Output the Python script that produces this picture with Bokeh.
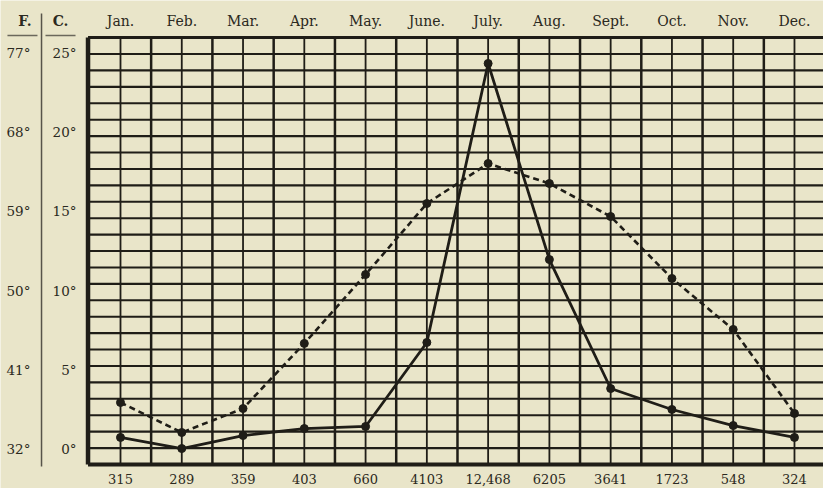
import numpy as np
from bokeh.plotting import figure
from bokeh.models import Range1d, ColumnDataSource
from bokeh.core.properties import value
from bokeh.embed import file_html
from bokeh.resources import INLINE

# ---- data ----
months = ["Jan.", "Feb.", "Mar.", "Apr.", "May.", "June.", "July.", "Aug.", "Sept.", "Oct.", "Nov.", "Dec."]
counts = ["315", "289", "359", "403", "660", "4103", "12,468", "6205", "3641", "1723", "548", "324"]
solid_series = [0.76, 0.06, 0.88, 1.32, 1.45, 6.74, 24.31, 11.96, 3.84, 2.52, 1.51, 0.76]
dashed_series = [2.96, 1.07, 2.58, 6.68, 11.02, 15.49, 18.01, 16.75, 14.67, 10.77, 7.56, 2.27]
c_ticks = [0, 5, 10, 15, 20, 25]
f_ticks = [32, 41, 50, 59, 68, 77]

# ---- styling / layout ----
BG = "#e9e5c9"
INK = "#1f1d17"
TXT = "#2b2921"
FONT = value("DejaVu Serif")

W, H = 823, 488
x0, x1 = -0.9585, 12.4737
y0, y1 = -2.456, 28.275
p = figure(width=W, height=H, x_range=Range1d(x0, x1), y_range=Range1d(y0, y1),
           output_backend="svg", toolbar_location=None,
           x_axis_location=None, y_axis_location=None,
           min_border=0, min_border_left=0, min_border_right=0,
           min_border_top=0, min_border_bottom=0,
           background_fill_color=BG, border_fill_color=BG, outline_line_color=None)
p.grid.visible = False
p.extra_y_ranges = {"F": Range1d(y0 * 9 / 5 + 32, y1 * 9 / 5 + 32)}

xm = np.arange(1, len(months) + 1)

# grid frame
g_left, g_right = 0.47, 12.6
g_bot, g_top = -0.945, 25.94
hy = np.linspace(g_bot, g_top, 27)
inner = hy[1:-1]
p.segment(x0=[g_left] * len(inner), y0=inner, x1=[g_right] * len(inner), y1=inner,
          line_color=INK, line_width=2.1)
# vertical lines: month centres and boundaries
vc = xm.astype(float)
vb = xm + 0.5
p.segment(x0=vc, y0=[g_bot] * len(vc), x1=vc, y1=[g_top] * len(vc), line_color=INK, line_width=1.8)
p.segment(x0=vb, y0=[g_bot] * len(vb), x1=vb, y1=[g_top] * len(vb), line_color=INK, line_width=2.5)
# borders
p.segment(x0=[g_left], y0=[g_top], x1=[g_right], y1=[g_top], line_color=INK, line_width=3)
p.segment(x0=[g_left], y0=[g_bot], x1=[g_right], y1=[g_bot], line_color=INK, line_width=4)
p.segment(x0=[g_left], y0=[g_bot], x1=[g_left], y1=[g_top], line_color=INK, line_width=4.5)

# series
src = ColumnDataSource(dict(x=xm, solid=solid_series, dashed=dashed_series))
p.line("x", "dashed", source=src, line_color=INK, line_width=2.6, line_dash="6 4")
p.scatter("x", "dashed", source=src, size=8, fill_color=INK, line_color=INK)
p.line("x", "solid", source=src, line_color=INK, line_width=2.8)
p.scatter("x", "solid", source=src, size=8, fill_color=INK, line_color=INK)

# month labels (top)
p.text(x=xm, y=[26.96] * 12, text=months, text_font=FONT, text_font_size="14px",
       text_color=TXT, text_align="center", text_baseline="alphabetic")
# counts (bottom)
p.text(x=xm, y=[-1.88] * 12, text=counts, text_font=FONT, text_font_size="13px",
       text_color=TXT, text_align="center", text_baseline="alphabetic")
# headers
p.text(x=[-0.559, 0.021], y=[26.96, 26.96], text=["F.", "C."], text_font=FONT,
       text_font_size="14px", text_font_style="bold", text_color=TXT,
       text_align="center", text_baseline="alphabetic")
# header rules + separator
p.segment(x0=[-0.845, -0.224], y0=[26.07, 26.07], x1=[-0.355, 0.266], y1=[26.07, 26.07],
          line_color="#6b685c", line_width=1.5)
p.segment(x0=[-0.289], y0=[27.46], x1=[-0.289], y1=[-1.07], line_color="#57544a", line_width=1.5)
# degree labels
p.text(x=[0.282] * len(c_ticks), y=[c for c in c_ticks], text=[f"{c}°" for c in c_ticks],
       text_font=FONT, text_font_size="13.5px", text_color=TXT,
       text_align="right", text_baseline="alphabetic")
p.text(x=[-0.861] * len(f_ticks), y=[f for f in f_ticks], text=[f"{f}°" for f in f_ticks],
       text_font=FONT, text_font_size="13.5px", text_color=TXT,
       text_align="left", text_baseline="alphabetic", y_range_name="F")

open("out.html", "w").write(file_html(p, INLINE))
